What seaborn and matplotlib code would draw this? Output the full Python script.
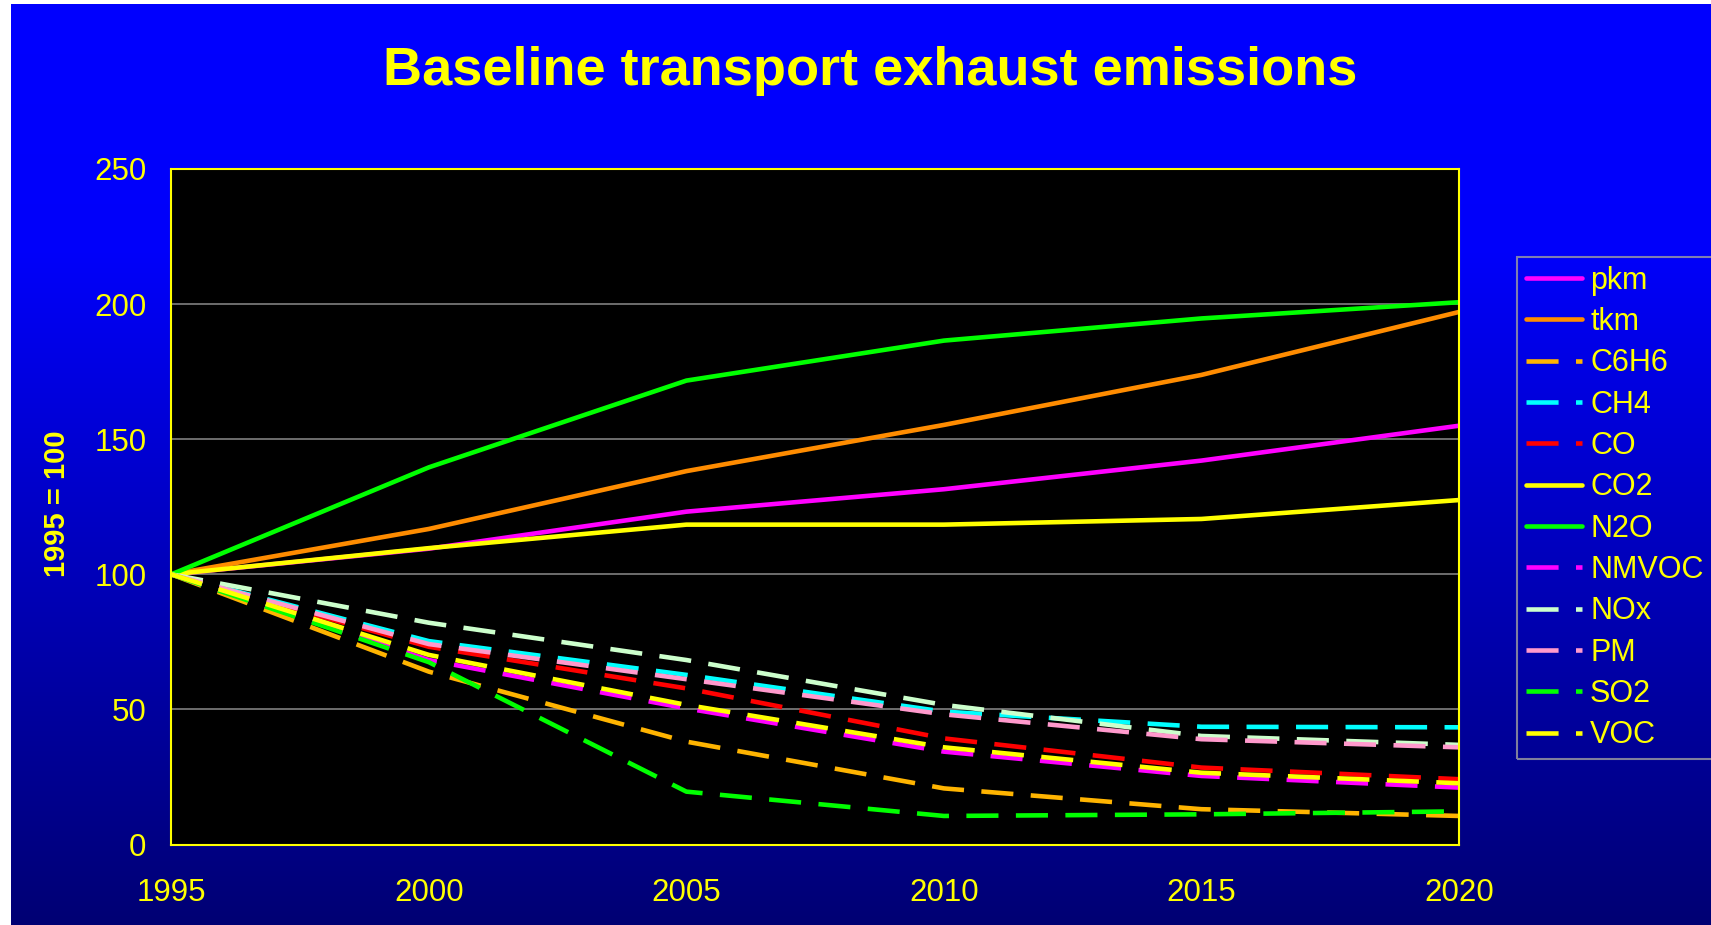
import numpy as np
import pandas as pd
import matplotlib
matplotlib.use("Agg")
import matplotlib.pyplot as plt
import seaborn as sns

# data (index, 1995 = 100)
years = [1995, 2000, 2005, 2010, 2015, 2020]
pkm = [100, 109.5, 123.2, 131.5, 142.1, 155.0]
tkm = [100, 116.8, 138.2, 155.3, 173.8, 197.1]
c6h6 = [100, 64.0, 38.1, 20.8, 13.1, 10.6]
ch4 = [100, 75.3, 62.8, 49.2, 43.6, 43.4]
co = [100, 73.2, 57.8, 39.3, 28.5, 24.2]
co2 = [100, 109.7, 118.4, 118.4, 120.5, 127.5]
n2o = [100, 139.6, 171.7, 186.5, 194.7, 200.7]
nmvoc = [100, 68.3, 50.4, 34.4, 25.4, 21.1]
nox = [100, 82.1, 68.3, 51.7, 40.2, 36.9]
pm = [100, 74.2, 61.2, 48.2, 39.0, 36.0]
so2 = [100, 67.5, 19.6, 10.6, 11.2, 12.3]
voc = [100, 70.2, 51.7, 36.0, 26.6, 22.7]

names = ["pkm", "tkm", "C6H6", "CH4", "CO", "CO2", "N2O",
         "NMVOC", "NOx", "PM", "SO2", "VOC"]
series = [pkm, tkm, c6h6, ch4, co, co2, n2o, nmvoc, nox, pm, so2, voc]
solid = ["pkm", "tkm", "CO2", "N2O"]

colors = {"pkm": "#FF00FF", "tkm": "#FF8C00", "C6H6": "#FFB400",
          "CH4": "#00FFFF", "CO": "#FF0000", "CO2": "#FFFF00",
          "N2O": "#00FF00", "NMVOC": "#FF00FF", "NOx": "#CCFFCC",
          "PM": "#FF99CC", "SO2": "#00FF00", "VOC": "#FFFF00"}

df = pd.DataFrame([
    {"year": y, "value": v, "series": n}
    for n, vals in zip(names, series)
    for y, v in zip(years, vals)
])

sns.set_theme(style="dark")
plt.rcParams["font.family"] = ["Liberation Sans", "DejaVu Sans"]

W, H = 1711, 925
fig = plt.figure(figsize=(W / 100, H / 100), dpi=100, facecolor="white")

# blue gradient background, small white margin top/left
bg = fig.add_axes([11 / W, 0, 1 - 11 / W, 1 - 4 / H], zorder=-10)
rows = np.arange(H)
blue = np.interp(rows, [0, 250, 925], [255, 250, 115]) / 255
grad = np.zeros((H, 2, 3))
grad[:, :, 2] = blue[:, None]
bg.imshow(grad, aspect="auto", extent=[0, 1, 0, 1], origin="upper")
bg.set_axis_off()

ax = fig.add_axes([171.3 / W, 1 - 844.6 / H, (1459 - 171.3) / W, (844.6 - 169) / H])
ax.set_facecolor("black")

dashes = {n: ("" if n in solid else (7, 3.8)) for n in names}
sns.lineplot(data=df, x="year", y="value", hue="series", style="series",
             hue_order=names, style_order=names, palette=colors,
             dashes=dashes, linewidth=3.3, legend=False, ax=ax)

ax.set_xlim(1995, 2020)
ax.set_ylim(0, 250)
ax.set_xticks(years)
ax.set_yticks([0, 50, 100, 150, 200, 250])
ax.grid(False)
ax.yaxis.grid(True, color="#808080", linewidth=1.2)
ax.set_axisbelow(True)
for s in ax.spines.values():
    s.set_color("#FFFF00")
    s.set_linewidth(1.5)
ax.tick_params(axis="both", colors="#FFFF00", labelsize=22.5, length=7,
               width=1.2, direction="out", labelcolor="#FFFF00")
ax.tick_params(axis="x", pad=17)
ax.tick_params(axis="y", pad=11)
ax.set_xlabel("")
ax.set_ylabel("")

fig.text(57 / W, 1 - 504 / H, "1995 = 100", rotation=90, ha="center",
         va="center", fontsize=21, fontweight="bold", color="#FFFF00")
fig.text(870 / W, 1 - 71 / H, "Baseline transport exhaust emissions",
         ha="center", va="center", fontsize=39, fontweight="bold",
         color="#FFFF00")

handles = ax.get_lines()[:len(names)]
leg = fig.legend(handles, names, loc="upper left",
                 bbox_to_anchor=(1516.7 / W, 1 - 256.7 / H),
                 frameon=True, fancybox=False, fontsize=22,
                 labelcolor="#FFFF00", handlelength=1.85, handletextpad=0.25,
                 labelspacing=0.37, borderpad=0.3, borderaxespad=0)
leg.get_frame().set_facecolor("none")
leg.get_frame().set_edgecolor("#A0A0A0")
leg.get_frame().set_linewidth(1.5)

fig.savefig("out.png", dpi=100, facecolor=fig.get_facecolor())
